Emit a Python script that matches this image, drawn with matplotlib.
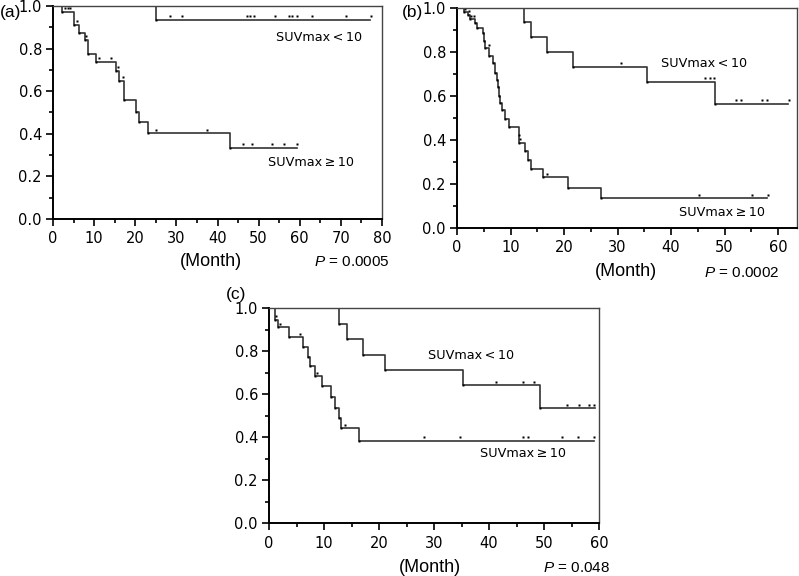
import numpy as np
import matplotlib
matplotlib.use('Agg')
import matplotlib.pyplot as plt
from matplotlib.ticker import MultipleLocator
from matplotlib.transforms import offset_copy

plt.rcParams['font.family'] = ['DejaVu Sans']
plt.rcParams['mathtext.fontset'] = 'custom'
plt.rcParams['mathtext.it'] = 'Liberation Sans:italic'
plt.rcParams['mathtext.rm'] = 'Liberation Sans'

# (a) event times / survival after event, censor times, end of follow-up
a_hi_t = [2.3, 5.1, 6.3, 7.8, 8.4, 10.4, 15.2, 16.0, 17.3, 20.2, 21.0, 23.0, 43.0]
a_hi_s = [0.973, 0.911, 0.872, 0.84, 0.775, 0.737, 0.696, 0.65, 0.56, 0.504, 0.457, 0.402, 0.335]
a_hi_cens = [3.0, 3.6, 4.1, 5.8, 8.0, 11.2, 14.2, 15.8, 17.1, 25.1, 37.4, 46.3, 48.5, 53.2, 56.1, 59.3]
a_hi_end = 59.3
a_lo_t = [25.1]
a_lo_s = [0.934]
a_lo_cens = [28.4, 31.3, 47.2, 48.0, 48.9, 54.1, 57.3, 58.2, 59.3, 63.0, 71.2, 77.3]
a_lo_end = 77.2

# (b)
b_hi_t = [1.3, 2.0, 2.4, 3.4, 3.7, 4.9, 5.0, 5.2, 6.0, 6.7, 7.1, 7.4, 7.7, 7.9, 8.0, 8.5, 9.0,
          9.8, 11.5, 11.6, 12.8, 13.2, 13.8, 16.1, 20.8, 26.9]
b_hi_s = [0.98, 0.968, 0.948, 0.93, 0.908, 0.885, 0.85, 0.817, 0.78, 0.749, 0.706, 0.673, 0.64,
          0.60, 0.567, 0.536, 0.497, 0.46, 0.423, 0.388, 0.351, 0.309, 0.268, 0.23, 0.183, 0.135]
b_hi_cens = [1.5, 2.2, 2.6, 3.2, 5.9, 11.8, 16.9, 45.2, 55.2, 58.1]
b_hi_end = 58.0
b_lo_t = [12.5, 13.8, 16.9, 21.6, 35.5, 48.2]
b_lo_s = [0.935, 0.87, 0.80, 0.733, 0.664, 0.564]
b_lo_cens = [30.7, 46.3, 47.2, 48.0, 52.1, 53.0, 57.1, 58.0, 62.1]
b_lo_end = 61.8

# (c)
c_hi_t = [1.0, 1.6, 3.6, 6.1, 7.0, 7.4, 8.3, 9.7, 11.2, 12.0, 12.7, 13.1, 16.4]
c_hi_s = [0.948, 0.912, 0.866, 0.822, 0.776, 0.734, 0.685, 0.639, 0.589, 0.539, 0.492, 0.442, 0.384]
c_hi_cens = [1.3, 2.0, 5.7, 8.7, 13.9, 28.1, 34.7, 46.2, 47.1, 53.2, 56.2, 59.1]
c_hi_end = 59.1
c_lo_t = [12.7, 14.1, 17.1, 21.1, 35.2, 49.3]
c_lo_s = [0.93, 0.856, 0.783, 0.716, 0.642, 0.535]
c_lo_cens = [41.2, 46.2, 48.2, 54.1, 56.4, 58.2, 59.0]
c_lo_end = 59.2

y_ticks = [0.0, 0.2, 0.4, 0.6, 0.8, 1.0]
y_labels = ['0.0', '0.2', '0.4', '0.6', '0.8', '1.0']

fig = plt.figure(figsize=(7.99, 5.76), dpi=100)
W, H = 799, 576


def km(ax, t, s, cens, end):
    tt = np.r_[0, t, end]
    ss = np.r_[1.0, s, s[-1]]
    ax.step(tt, ss, where='post', color='#333333', lw=1.2)
    ax.plot(t, s, 's', color='black', ms=2.0, mec='none')
    lvl = ss[np.searchsorted(tt, cens, side='right') - 1]
    tr = offset_copy(ax.transData, fig=fig, y=2.6, units='points')
    ax.plot(cens, lvl, 's', color='black', ms=2.0, mec='none', transform=tr)


def setup(ax, xmax, xlim):
    ax.set_xlim(0, xlim)
    ax.set_ylim(0, 1.0)
    ax.set_xticks(np.arange(0, xmax + 1, 10))
    ax.xaxis.set_minor_locator(MultipleLocator(5))
    ax.set_yticks(y_ticks)
    ax.set_yticklabels(y_labels)
    ax.yaxis.set_minor_locator(MultipleLocator(0.1))
    ax.tick_params(which='both', direction='out', color='black', width=1.2, labelsize=10.5)
    ax.tick_params(which='major', length=5)
    ax.tick_params(which='minor', length=3)
    ax.tick_params(axis='x', pad=4)
    ax.tick_params(axis='y', pad=3)
    for sp in ['left', 'bottom']:
        ax.spines[sp].set_linewidth(1.4)
    for sp in ['top', 'right']:
        ax.spines[sp].set_linewidth(1.0)
        ax.spines[sp].set_color('#444444')


def label(ax, x, y, txt):
    ax.text(x, y, txt, fontsize=9.2, va='center', ha='left')


LT = 'SUVmax\u2009<\u200910'
GE = 'SUVmax\u2009\u2265\u200910'

# panel (a)
ax1 = fig.add_axes([53 / W, 1 - 219 / H, 329 / W, 213 / H])
setup(ax1, 80, 80)
km(ax1, a_hi_t, a_hi_s, a_hi_cens, a_hi_end)
km(ax1, a_lo_t, a_lo_s, a_lo_cens, a_lo_end)
label(ax1, 54.2, 0.854, LT)
label(ax1, 52.3, 0.266, GE)

# panel (b)
ax2 = fig.add_axes([457 / W, 1 - 228 / H, 340 / W, 220 / H])
setup(ax2, 60, 63.55)
km(ax2, b_hi_t, b_hi_s, b_hi_cens, b_hi_end)
km(ax2, b_lo_t, b_lo_s, b_lo_cens, b_lo_end)
label(ax2, 38.1, 0.748, LT)
label(ax2, 41.5, 0.07, GE)

# panel (c)
ax3 = fig.add_axes([269 / W, 1 - 523.3 / H, 330 / W, 214.8 / H])
setup(ax3, 60, 60)
km(ax3, c_hi_t, c_hi_s, c_hi_cens, c_hi_end)
km(ax3, c_lo_t, c_lo_s, c_lo_cens, c_lo_end)
label(ax3, 28.9, 0.783, LT)
label(ax3, 38.4, 0.325, GE)

fam = 'Liberation Sans'
def ftext(x, y, s, size, ha):
    fig.text(x / W, 1 - y / H, s, fontsize=size, ha=ha, va='center', family=fam)

ftext(0, 13, '(a)', 12.5, 'left')
ftext(402, 13, '(b)', 12.5, 'left')
ftext(226, 295, '(c)', 12.5, 'left')
ftext(210.7, 262, '(Month)', 13, 'center')
ftext(625.7, 271.7, '(Month)', 13, 'center')
ftext(430, 568, '(Month)', 13, 'center')
ftext(390, 262, r'$P$ = 0.0005', 11, 'right')
ftext(779, 273, r'$P$ = 0.0002', 11, 'right')
ftext(610, 568, r'$P$ = 0.048', 11, 'right')

fig.savefig('out.png', dpi=100)
